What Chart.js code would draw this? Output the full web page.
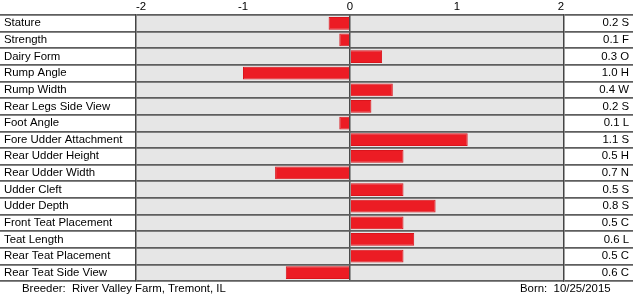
<!DOCTYPE html>
<html>
<head>
<meta charset="utf-8">
<script src="https://cdn.jsdelivr.net/npm/chart.js@4"></script>
<style>
  html, body { margin: 0; padding: 0; background: #fff; }
  #wrap { width: 633px; height: 300px; }
</style>
</head>
<body>
<div id="wrap"><canvas id="traitChart" width="633" height="300"></canvas></div>
<script>
const traits = [
    'Stature', 'Strength', 'Dairy Form', 'Rump Angle', 'Rump Width',
    'Rear Legs Side View', 'Foot Angle', 'Fore Udder Attachment',
    'Rear Udder Height', 'Rear Udder Width', 'Udder Cleft', 'Udder Depth',
    'Front Teat Placement', 'Teat Length', 'Rear Teat Placement', 'Rear Teat Side View'
];
const scores = [-0.2, -0.1, 0.3, -1.0, 0.4, 0.2, -0.1, 1.1, 0.5, -0.7, 0.5, 0.8, 0.5, 0.6, 0.5, -0.6];
const codes = ['S', 'F', 'O', 'H', 'W', 'S', 'L', 'S', 'H', 'N', 'S', 'S', 'C', 'L', 'C', 'C'];
const axisTicks = [-2, -1, 0, 1, 2];
const breeder = 'Breeder:  River Valley Farm, Tremont, IL';
const born = 'Born:  10/25/2015';

const scoreLabels = scores.map((v, i) => Math.abs(v).toFixed(1) + ' ' + codes[i]);

const lineColor = '#5e5e5e';
const font = { family: "'Liberation Sans', Arial, sans-serif", size: 11.4 };

// grey plot background + footer text
const chartExtras = {
    id: 'chartExtras',
    beforeDraw(chart) {
        const { ctx, chartArea: a } = chart;
        ctx.save();
        ctx.fillStyle = '#e6e6e6';
        ctx.fillRect(a.left, a.top, a.right - a.left, a.bottom - a.top);
        ctx.restore();
    },
    afterDraw(chart) {
        const { ctx } = chart;
        ctx.save();
        ctx.fillStyle = '#000';
        ctx.font = "11.4px 'Liberation Sans', Arial, sans-serif";
        ctx.textBaseline = 'middle';
        ctx.textAlign = 'left';
        ctx.fillText(breeder, 22, 289);
        ctx.fillText(born, 520, 289);
        ctx.restore();
    }
};

const config = {
    type: 'bar',
    data: {
        labels: traits,
        datasets: [{
            data: scores,
            backgroundColor: '#ec1c24',
            borderColor: '#d9141c',
            borderWidth: 1,
            barPercentage: 0.76,
            categoryPercentage: 1,
            yAxisID: 'y'
        }]
    },
    plugins: [chartExtras],
    options: {
        indexAxis: 'y',
        responsive: false,
        animation: false,
        layout: { padding: { left: 4, right: 4, top: 0, bottom: 19 } },
        plugins: {
            legend: { display: false },
            tooltip: { enabled: false }
        },
        scales: {
            x: {
                position: 'top',
                min: -2,
                max: 2,
                afterBuildTicks: (scale) => {
                    scale.ticks = axisTicks.map(v => ({ value: v }));
                },
                ticks: { font, color: '#000', padding: 1, align: 'inner' },
                grid: {
                    drawTicks: false,
                    color: (c) => c.tick && c.tick.value === 0 ? '#4a4a4a' : 'rgba(0,0,0,0)',
                    lineWidth: 1.5
                },
                border: { display: false },
                afterFit: (scale) => { scale.height = 15; }
            },
            y: {
                position: 'left',
                offset: true,
                ticks: { font, color: '#000', crossAlign: 'far', padding: 0, autoSkip: false },
                grid: {
                    offset: true,
                    color: lineColor,
                    lineWidth: 1.7,
                    tickLength: 140
                },
                border: { color: '#444', width: 1.5 },
                afterFit: (scale) => { scale.width = 132; }
            },
            y2: {
                type: 'category',
                position: 'right',
                labels: scoreLabels,
                offset: true,
                ticks: { font, color: '#000', crossAlign: 'far', padding: 0, autoSkip: false },
                grid: {
                    offset: true,
                    drawOnChartArea: false,
                    color: lineColor,
                    lineWidth: 1.7,
                    tickLength: 75
                },
                border: { color: '#444', width: 1.5 },
                afterFit: (scale) => { scale.width = 65; }
            }
        }
    }
};

const traitChart = new Chart(document.getElementById('traitChart'), config);
</script>
</body>
</html>
